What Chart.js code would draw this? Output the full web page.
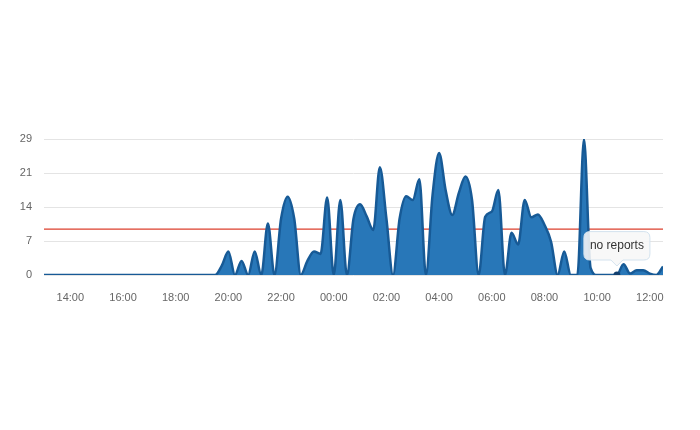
<!DOCTYPE html>
<html>
<head>
<meta charset="utf-8">
<script src="https://cdn.jsdelivr.net/npm/chart.js@4/dist/chart.umd.min.js"></script>
<style>
    html, body { margin: 0; padding: 0; background: #fff; }
    #chart { display: block; }
</style>
</head>
<body>
<canvas id="chart" width="700" height="430"></canvas>
<script>
// series starts at 13:00, one value every 15 minutes, up to 12:30 next day
const startTime = '13:00';
const stepMinutes = 15;
const reports = [
    0, 0, 0, 0, 0, 0, 0, 0, 0, 0,
    0, 0, 0, 0, 0, 0, 0, 0, 0, 0,
    0, 0, 0, 0, 0, 0, 0, 2, 5, 0,
    3, 0, 5, 0, 11, 0, 12, 16.7, 12, 0,
    3, 5, 4.5, 16.5, 0, 16, 0, 12, 15.1, 12.5,
    9.6, 23, 12, 0, 12, 16.8, 16, 20.4, 0, 17,
    26, 18, 12.8, 17.5, 21, 16, 0, 12.4, 13.5, 18.1,
    0, 9, 6.5, 16, 12.3, 12.9, 10.7, 7.1, 0, 5,
    0, 0, 29, 1.5, 0, 0, 0, 0, 2.3, 0.3,
    1, 1, 0.3, 0, 1.8
];
const threshold = 9.8;
const yTickValues = [0, 7.25, 14.5, 21.75, 29];
const yTickLabels = ['0', '7', '14', '21', '29'];
const xTickLabels = ['14:00', '16:00', '18:00', '20:00', '22:00', '00:00',
                     '02:00', '04:00', '06:00', '08:00', '10:00', '12:00'];
const endTime = '12:30';
const tooltipIndex = 87; // 10:45
const tooltipText = 'no reports';

// часы от начала серии
function hoursFromStart(label) {
    const [h, m] = label.split(':').map(Number);
    const [sh, sm] = startTime.split(':').map(Number);
    let diff = (h * 60 + m) - (sh * 60 + sm);
    if (diff < 0) diff += 24 * 60;
    return diff / 60;
}

const xTickPositions = xTickLabels.map(hoursFromStart);
const points = reports.map((v, i) => ({ x: i * stepMinutes / 60, y: v }));
const xMax = hoursFromStart(endTime);

const fontFamily = '"Liberation Sans", Arial, sans-serif';

const chart = new Chart(document.getElementById('chart'), {
    type: 'line',
    data: {
        datasets: [
            {
                label: 'reports',
                data: points,
                borderColor: '#175a96',
                backgroundColor: '#2877b8',
                borderWidth: 2.5,
                fill: 'origin',
                cubicInterpolationMode: 'monotone',
                pointRadius: 0,
                pointHoverRadius: 3.5,
                pointHoverBorderWidth: 0,
                pointHoverBackgroundColor: '#123f6e'
            },
            {
                label: 'threshold',
                data: [{ x: 0, y: threshold }, { x: xMax, y: threshold }],
                borderColor: '#dc3f2c',
                borderWidth: 1.2,
                fill: false,
                pointRadius: 0,
                pointHoverRadius: 0
            }
        ]
    },
    options: {
        responsive: false,
        animation: false,
        events: [],
        layout: { padding: { top: 139, left: 0, right: 37, bottom: 0 } },
        plugins: {
            legend: { display: false },
            tooltip: {
                enabled: true,
                backgroundColor: 'rgba(247,247,247,0.88)',
                borderColor: '#d3e2ee',
                borderWidth: 1,
                cornerRadius: 6,
                bodyColor: '#333333',
                bodyFont: { family: fontFamily, size: 12 },
                displayColors: false,
                padding: { left: 6, right: 6, top: 7, bottom: 7 },
                caretSize: 6,
                caretPadding: 9,
                yAlign: 'bottom',
                xAlign: 'center',
                callbacks: {
                    title: () => [],
                    label: () => tooltipText
                }
            }
        },
        scales: {
            x: {
                type: 'linear',
                min: 0,
                max: xMax,
                grid: { display: false },
                border: { display: false },
                afterFit: (scale) => { scale.height = 155; },
                afterBuildTicks: (scale) => {
                    scale.ticks = xTickPositions.map(v => ({ value: v }));
                },
                ticks: {
                    autoSkip: false,
                    maxRotation: 0,
                    padding: 8,
                    color: '#666666',
                    font: { family: fontFamily, size: 11 },
                    callback: (value, index) => xTickLabels[index]
                }
            },
            y: {
                min: 0,
                max: 29,
                grid: { color: '#e4e4e4', lineWidth: 1, drawTicks: false },
                border: { display: false },
                afterFit: (scale) => { scale.width = 44; },
                afterBuildTicks: (scale) => {
                    scale.ticks = yTickValues.map(v => ({ value: v }));
                },
                ticks: {
                    padding: 12,
                    color: '#666666',
                    font: { family: fontFamily, size: 11 },
                    callback: (value, index) => yTickLabels[index]
                }
            }
        }
    }
});

// показываем подсказку "no reports" как на картинке
const pt = chart.getDatasetMeta(0).data[tooltipIndex];
chart.setActiveElements([{ datasetIndex: 0, index: tooltipIndex }]);
chart.tooltip.setActiveElements([{ datasetIndex: 0, index: tooltipIndex }], { x: pt.x, y: pt.y });
chart.update();
</script>
</body>
</html>
